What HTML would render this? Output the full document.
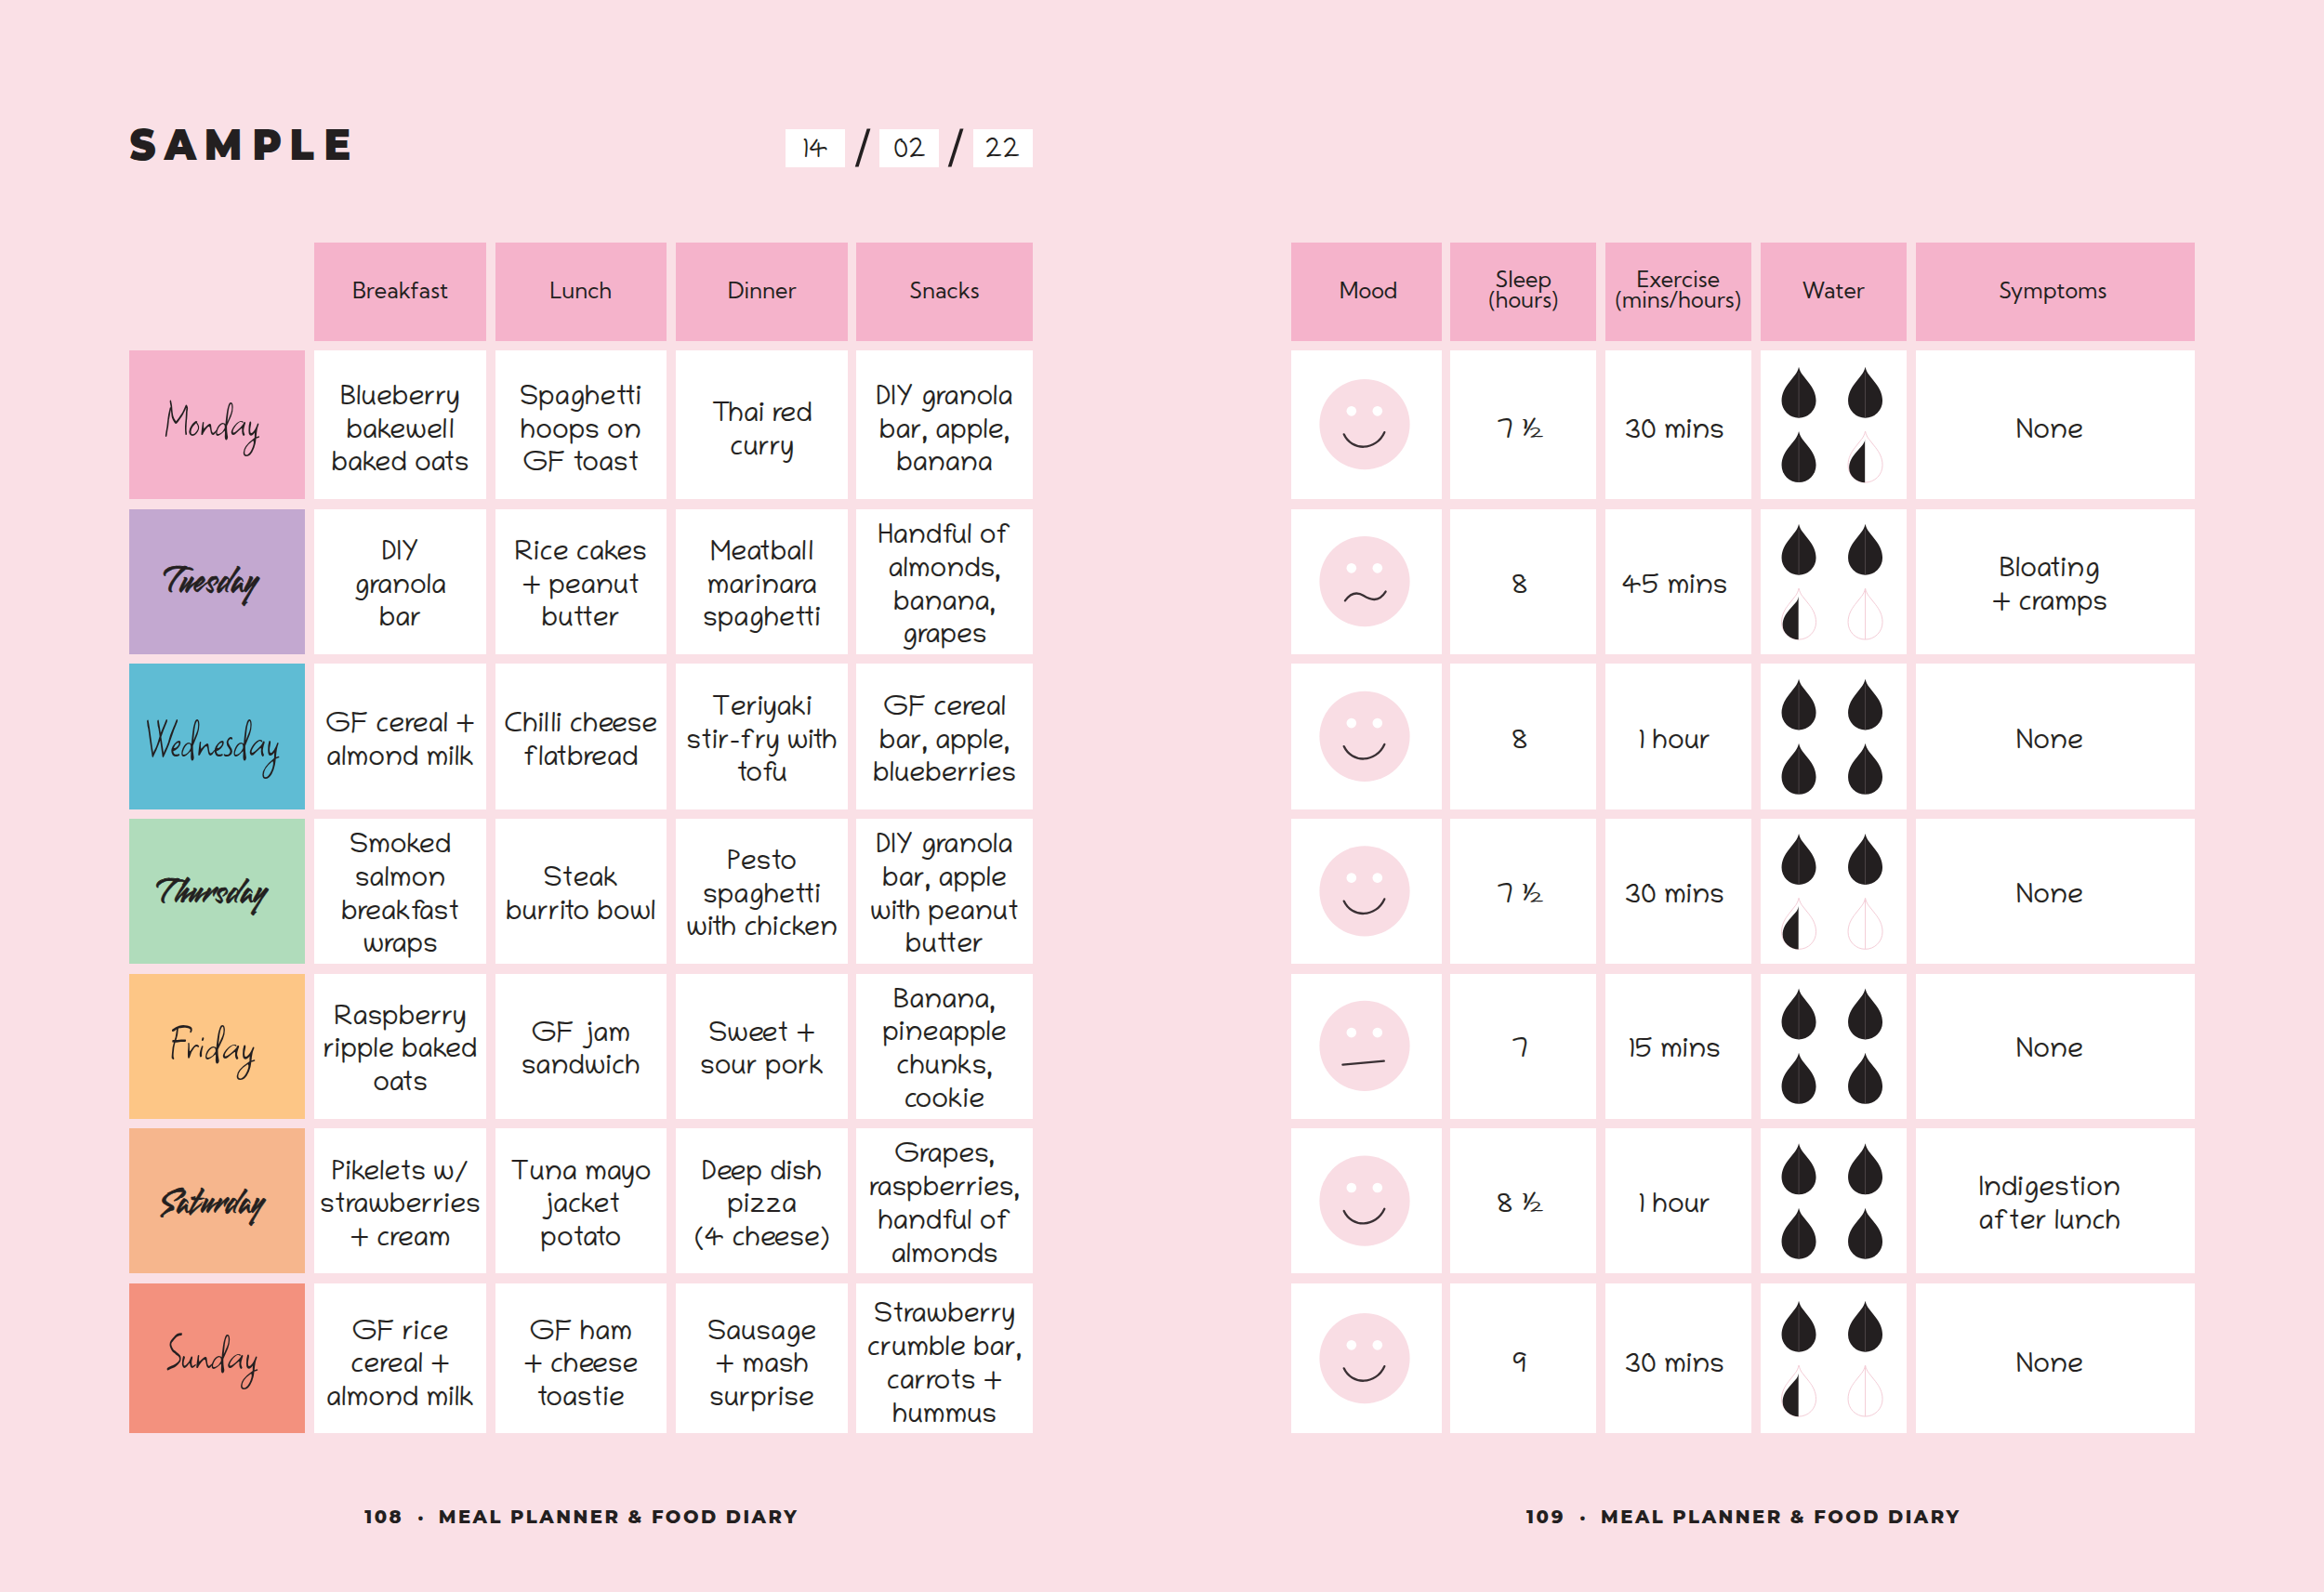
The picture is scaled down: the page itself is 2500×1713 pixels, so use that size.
<!DOCTYPE html>
<html lang="en"><head><meta charset="utf-8"><title>Sample – Meal Planner &amp; Food Diary</title>
<style>
html,body{margin:0;padding:0}
body{width:2500px;height:1713px;background:#fae0e6;position:relative;overflow:hidden;color:#231f20}
.c{position:absolute;display:flex;align-items:center;justify-content:center;text-align:center;box-sizing:border-box}
.h{background:#f5b3cb;font-family:'Kumbh Sans', 'Liberation Sans', sans-serif;font-size:23.4px;line-height:24px;color:#231f20}
.h span{position:relative;top:-0.8px}
.h2{line-height:22.8px}
.h2 span{top:-1.4px}
.w{background:#fff;font-family:'Chilanka', 'Liberation Sans', sans-serif;font-size:30px;line-height:35.5px;white-space:nowrap;color:#231f20;-webkit-text-stroke:0.2px #231f20}
.w>span{position:relative;top:9px}
.w.l4{line-height:35.8px}
.w.sx>span{left:-4px}
.w span.hf{display:inline-block;position:static;transform:scale(1.45,1.08);transform-origin:0 80%;margin-right:6px}
.w.sy>span{left:-6px}
.d{}
svg{position:absolute;left:0;top:0}
</style></head><body>

<div class="c h" style="left:338px;top:261px;width:185px;height:105.5px;"><span>Breakfast</span></div>
<div class="c h" style="left:532.5px;top:261px;width:184.5px;height:105.5px;"><span>Lunch</span></div>
<div class="c h" style="left:727.3px;top:261px;width:184.7px;height:105.5px;"><span>Dinner</span></div>
<div class="c h" style="left:921.4px;top:261px;width:189.3px;height:105.5px;"><span>Snacks</span></div>
<div class="c h" style="left:1388.5px;top:261px;width:162.3px;height:105.5px;"><span style="left:2.5px">Mood</span></div>
<div class="c h h2" style="left:1560.4px;top:261px;width:156.7px;height:105.5px;"><span>Sleep<br>(hours)</span></div>
<div class="c h h2" style="left:1727px;top:261px;width:156.5px;height:105.5px;"><span>Exercise<br>(mins/hours)</span></div>
<div class="c h" style="left:1894px;top:261px;width:156.5px;height:105.5px;"><span>Water</span></div>
<div class="c h" style="left:2061px;top:261px;width:299.7px;height:105.5px;"><span style="left:-2.5px">Symptoms</span></div>
<div class="c d" style="left:139px;top:376.5px;width:189px;height:160.5px;background:#f5b3cb"></div>
<div class="c w" style="left:338px;top:376.5px;width:185px;height:160.5px;"><span style="top:8.95px">Blueberry<br>bakewell<br>baked oats</span></div>
<div class="c w" style="left:532.5px;top:376.5px;width:184.5px;height:160.5px;"><span style="top:8.95px">Spaghetti<br>hoops on<br>GF toast</span></div>
<div class="c w" style="left:727.3px;top:376.5px;width:184.7px;height:160.5px;"><span style="top:8.95px">Thai red<br>curry</span></div>
<div class="c w" style="left:921.4px;top:376.5px;width:189.3px;height:160.5px;"><span style="top:8.95px">DIY granola<br>bar, apple,<br>banana</span></div>
<div class="c d" style="left:139px;top:547.5px;width:189px;height:156.5px;background:#c3a8d0"></div>
<div class="c w" style="left:338px;top:547.5px;width:185px;height:156.5px;"><span style="top:6.95px">DIY<br>granola<br>bar</span></div>
<div class="c w" style="left:532.5px;top:547.5px;width:184.5px;height:156.5px;"><span style="top:6.95px">Rice cakes<br>+ peanut<br>butter</span></div>
<div class="c w" style="left:727.3px;top:547.5px;width:184.7px;height:156.5px;"><span style="top:6.95px">Meatball<br>marinara<br>spaghetti</span></div>
<div class="c w l4" style="left:921.4px;top:547.5px;width:189.3px;height:156.5px;"><span style="top:6.95px">Handful of<br>almonds,<br>banana,<br>grapes</span></div>
<div class="c d" style="left:139px;top:714px;width:189px;height:157px;background:#5fbcd4"></div>
<div class="c w" style="left:338px;top:714px;width:185px;height:157px;"><span style="top:7.2px">GF cereal +<br>almond milk</span></div>
<div class="c w" style="left:532.5px;top:714px;width:184.5px;height:157px;"><span style="top:7.2px">Chilli cheese<br>flatbread</span></div>
<div class="c w" style="left:727.3px;top:714px;width:184.7px;height:157px;"><span style="top:7.2px">Teriyaki<br>stir-fry with<br>tofu</span></div>
<div class="c w" style="left:921.4px;top:714px;width:189.3px;height:157px;"><span style="top:7.2px">GF cereal<br>bar, apple,<br>blueberries</span></div>
<div class="c d" style="left:139px;top:881px;width:189px;height:156px;background:#b0dcbb"></div>
<div class="c w l4" style="left:338px;top:881px;width:185px;height:156px;"><span style="top:6.7px">Smoked<br>salmon<br>breakfast<br>wraps</span></div>
<div class="c w" style="left:532.5px;top:881px;width:184.5px;height:156px;"><span style="top:6.7px">Steak<br>burrito bowl</span></div>
<div class="c w" style="left:727.3px;top:881px;width:184.7px;height:156px;"><span style="top:6.7px">Pesto<br>spaghetti<br>with chicken</span></div>
<div class="c w l4" style="left:921.4px;top:881px;width:189.3px;height:156px;"><span style="top:6.7px">DIY granola<br>bar, apple<br>with peanut<br>butter</span></div>
<div class="c d" style="left:139px;top:1047.5px;width:189px;height:156px;background:#fdc686"></div>
<div class="c w" style="left:338px;top:1047.5px;width:185px;height:156px;"><span style="top:6.7px">Raspberry<br>ripple baked<br>oats</span></div>
<div class="c w" style="left:532.5px;top:1047.5px;width:184.5px;height:156px;"><span style="top:6.7px">GF jam<br>sandwich</span></div>
<div class="c w" style="left:727.3px;top:1047.5px;width:184.7px;height:156px;"><span style="top:6.7px">Sweet +<br>sour pork</span></div>
<div class="c w l4" style="left:921.4px;top:1047.5px;width:189.3px;height:156px;"><span style="top:6.7px">Banana,<br>pineapple<br>chunks,<br>cookie</span></div>
<div class="c d" style="left:139px;top:1214.4px;width:189px;height:155.9px;background:#f6b68d"></div>
<div class="c w" style="left:338px;top:1214.4px;width:185px;height:155.9px;"><span style="top:6.65px">Pikelets w/<br>strawberries<br>+ cream</span></div>
<div class="c w" style="left:532.5px;top:1214.4px;width:184.5px;height:155.9px;"><span style="top:6.65px">Tuna mayo<br>jacket<br>potato</span></div>
<div class="c w" style="left:727.3px;top:1214.4px;width:184.7px;height:155.9px;"><span style="top:6.65px">Deep dish<br>pizza<br>(4 cheese)</span></div>
<div class="c w l4" style="left:921.4px;top:1214.4px;width:189.3px;height:155.9px;"><span style="top:6.65px">Grapes,<br>raspberries,<br>handful of<br>almonds</span></div>
<div class="c d" style="left:139px;top:1381.3px;width:189px;height:160.9px;background:#f3917e"></div>
<div class="c w" style="left:338px;top:1381.3px;width:185px;height:160.9px;"><span style="top:9.15px">GF rice<br>cereal +<br>almond milk</span></div>
<div class="c w" style="left:532.5px;top:1381.3px;width:184.5px;height:160.9px;"><span style="top:9.15px">GF ham<br>+ cheese<br>toastie</span></div>
<div class="c w" style="left:727.3px;top:1381.3px;width:184.7px;height:160.9px;"><span style="top:9.15px">Sausage<br>+ mash<br>surprise</span></div>
<div class="c w l4" style="left:921.4px;top:1381.3px;width:189.3px;height:160.9px;"><span style="top:9.15px">Strawberry<br>crumble bar,<br>carrots +<br>hummus</span></div>
<div class="c w" style="left:1388.5px;top:376.5px;width:162.3px;height:160.5px;"></div>
<div class="c w sx" style="left:1560.4px;top:376.5px;width:156.7px;height:160.5px;"><span style="top:8.95px">7 <span class="hf">½</span></span></div>
<div class="c w sx" style="left:1727px;top:376.5px;width:156.5px;height:160.5px;"><span style="top:8.95px">30 mins</span></div>
<div class="c w" style="left:1894px;top:376.5px;width:156.5px;height:160.5px;"></div>
<div class="c w sy" style="left:2061px;top:376.5px;width:299.7px;height:160.5px;"><span style="top:8.95px">None</span></div>
<div class="c w" style="left:1388.5px;top:547.5px;width:162.3px;height:156.5px;"></div>
<div class="c w sx" style="left:1560.4px;top:547.5px;width:156.7px;height:156.5px;"><span style="top:6.95px">8</span></div>
<div class="c w sx" style="left:1727px;top:547.5px;width:156.5px;height:156.5px;"><span style="top:6.95px">45 mins</span></div>
<div class="c w" style="left:1894px;top:547.5px;width:156.5px;height:156.5px;"></div>
<div class="c w sy" style="left:2061px;top:547.5px;width:299.7px;height:156.5px;"><span style="top:6.95px">Bloating<br>+ cramps</span></div>
<div class="c w" style="left:1388.5px;top:714px;width:162.3px;height:157px;"></div>
<div class="c w sx" style="left:1560.4px;top:714px;width:156.7px;height:157px;"><span style="top:7.2px">8</span></div>
<div class="c w sx" style="left:1727px;top:714px;width:156.5px;height:157px;"><span style="top:7.2px">1 hour</span></div>
<div class="c w" style="left:1894px;top:714px;width:156.5px;height:157px;"></div>
<div class="c w sy" style="left:2061px;top:714px;width:299.7px;height:157px;"><span style="top:7.2px">None</span></div>
<div class="c w" style="left:1388.5px;top:881px;width:162.3px;height:156px;"></div>
<div class="c w sx" style="left:1560.4px;top:881px;width:156.7px;height:156px;"><span style="top:6.7px">7 <span class="hf">½</span></span></div>
<div class="c w sx" style="left:1727px;top:881px;width:156.5px;height:156px;"><span style="top:6.7px">30 mins</span></div>
<div class="c w" style="left:1894px;top:881px;width:156.5px;height:156px;"></div>
<div class="c w sy" style="left:2061px;top:881px;width:299.7px;height:156px;"><span style="top:6.7px">None</span></div>
<div class="c w" style="left:1388.5px;top:1047.5px;width:162.3px;height:156px;"></div>
<div class="c w sx" style="left:1560.4px;top:1047.5px;width:156.7px;height:156px;"><span style="top:6.7px">7</span></div>
<div class="c w sx" style="left:1727px;top:1047.5px;width:156.5px;height:156px;"><span style="top:6.7px">15 mins</span></div>
<div class="c w" style="left:1894px;top:1047.5px;width:156.5px;height:156px;"></div>
<div class="c w sy" style="left:2061px;top:1047.5px;width:299.7px;height:156px;"><span style="top:6.7px">None</span></div>
<div class="c w" style="left:1388.5px;top:1214.4px;width:162.3px;height:155.9px;"></div>
<div class="c w sx" style="left:1560.4px;top:1214.4px;width:156.7px;height:155.9px;"><span style="top:6.65px">8 <span class="hf">½</span></span></div>
<div class="c w sx" style="left:1727px;top:1214.4px;width:156.5px;height:155.9px;"><span style="top:6.65px">1 hour</span></div>
<div class="c w" style="left:1894px;top:1214.4px;width:156.5px;height:155.9px;"></div>
<div class="c w sy" style="left:2061px;top:1214.4px;width:299.7px;height:155.9px;"><span style="top:6.65px">Indigestion<br>after lunch</span></div>
<div class="c w" style="left:1388.5px;top:1381.3px;width:162.3px;height:160.9px;"></div>
<div class="c w sx" style="left:1560.4px;top:1381.3px;width:156.7px;height:160.9px;"><span style="top:9.15px">9</span></div>
<div class="c w sx" style="left:1727px;top:1381.3px;width:156.5px;height:160.9px;"><span style="top:9.15px">30 mins</span></div>
<div class="c w" style="left:1894px;top:1381.3px;width:156.5px;height:160.9px;"></div>
<div class="c w sy" style="left:2061px;top:1381.3px;width:299.7px;height:160.9px;"><span style="top:9.15px">None</span></div>
<div class="c " style="left:845.2px;top:139px;width:63.7px;height:40.5px;background:#fff"></div>
<div class="c " style="left:946.3px;top:139px;width:63.4px;height:40.5px;background:#fff"></div>
<div class="c " style="left:1047.4px;top:139px;width:63.6px;height:40.5px;background:#fff"></div>
<svg width="2500" height="1713" viewBox="0 0 2500 1713">
<defs><path id="dp" d="M0 0C0.8 3.5 2.2 6.5 4 8.6L11 17.4C15 22.5 18.5 28.5 18.5 36.5A18.5 18.5 0 0 1-18.5 36.5C-18.5 28.5-15 22.5-11 17.4L-4 8.6C-2.2 6.5-0.8 3.5 0 0Z"/><clipPath id="hl"><rect x="-20" y="-1" width="19.6" height="60"/></clipPath></defs>
<text transform="scale(0.9,1)" x="154.89 196.44 244.11 301.56 346.11 387.33" y="172" font-family="&#39;Montserrat&#39;, &#39;Liberation Sans&#39;, sans-serif" font-weight="900" font-size="47.3" fill="#231f20">SAMPLE</text>
<text x="877.1" y="169.3" text-anchor="middle" font-family="&#39;Chilanka&#39;, &#39;Liberation Sans&#39;, sans-serif" font-size="29" fill="#231f20">14</text>
<text x="978.5" y="169.3" text-anchor="middle" font-family="&#39;Chilanka&#39;, &#39;Liberation Sans&#39;, sans-serif" font-size="29" fill="#231f20">02</text>
<text x="1078.4" y="169.3" text-anchor="middle" font-family="&#39;Chilanka&#39;, &#39;Liberation Sans&#39;, sans-serif" font-size="29" fill="#231f20">22</text>
<polygon points="919.8,179.5 923.6,179.5 936.4,138.4 932.6,138.4" fill="#231f20"/>
<polygon points="1019.7,179.5 1023.5,179.5 1036.5,138.4 1032.7,138.4" fill="#231f20"/>
<text transform="translate(174.86,467.9) scale(0.96,1.1)" x="0" y="0" font-family="&#39;Square Peg&#39;, &#39;Hurricane&#39;, &#39;Liberation Serif&#39;, serif" font-size="51" fill="#231f20" textLength="108.83" lengthAdjust="spacingAndGlyphs">Monday</text>
<text transform="translate(175.06,637.2) scale(0.97,1.15)" x="0" y="0" font-family="&#39;Smooch&#39;, &#39;Liberation Serif&#39;, serif" font-size="38" fill="#231f20" stroke="#231f20" stroke-width="0.6" textLength="104.27" lengthAdjust="spacingAndGlyphs">Tuesday</text>
<text transform="translate(154.62,812.6) scale(1,1.2)" x="0" y="0" font-family="&#39;Square Peg&#39;, &#39;Hurricane&#39;, &#39;Liberation Serif&#39;, serif" font-size="51" fill="#231f20" textLength="146.06" lengthAdjust="spacingAndGlyphs">Wednesday</text>
<text transform="translate(167.17,970.9) scale(0.96,1.1)" x="0" y="0" font-family="&#39;Smooch&#39;, &#39;Liberation Serif&#39;, serif" font-size="38" fill="#231f20" stroke="#231f20" stroke-width="0.6" textLength="123.61" lengthAdjust="spacingAndGlyphs">Thursday</text>
<text transform="translate(179.94,1138.7) scale(1.09,1.1)" x="0" y="0" font-family="&#39;Square Peg&#39;, &#39;Hurricane&#39;, &#39;Liberation Serif&#39;, serif" font-size="51" fill="#231f20" textLength="86.8" lengthAdjust="spacingAndGlyphs">Friday</text>
<text transform="translate(173.2,1305.2) scale(0.92,1.1)" x="0" y="0" font-family="&#39;Smooch&#39;, &#39;Liberation Serif&#39;, serif" font-size="38" fill="#231f20" stroke="#231f20" stroke-width="0.6" textLength="119.24" lengthAdjust="spacingAndGlyphs">Saturday</text>
<text transform="translate(176.31,1472) scale(1.01,1.1)" x="0" y="0" font-family="&#39;Square Peg&#39;, &#39;Hurricane&#39;, &#39;Liberation Serif&#39;, serif" font-size="51" fill="#231f20" textLength="100.11" lengthAdjust="spacingAndGlyphs">Sunday</text>
<g transform="translate(1468,456.55)">
<circle r="48.6" fill="#f9dde4"/>
<circle cx="-14.2" cy="-14.2" r="5.3" fill="#fff"/><circle cx="13.8" cy="-14.2" r="5.3" fill="#fff"/>
<path d="M-22.3 10.8C-14 29 12 29 21.3 8.6" fill="none" stroke="#3a3034" stroke-width="2.3" stroke-linecap="round"/>
</g>
<g transform="translate(1468,625.55)">
<circle r="48.6" fill="#f9dde4"/>
<circle cx="-14.2" cy="-14.2" r="5.3" fill="#fff"/><circle cx="13.8" cy="-14.2" r="5.3" fill="#fff"/>
<path d="M-21.1 20.8C-15 12.5-8 11 -1 15.5S15 23 22.6 11" fill="none" stroke="#3a3034" stroke-width="2.3" stroke-linecap="round"/>
</g>
<g transform="translate(1468,792.3)">
<circle r="48.6" fill="#f9dde4"/>
<circle cx="-14.2" cy="-14.2" r="5.3" fill="#fff"/><circle cx="13.8" cy="-14.2" r="5.3" fill="#fff"/>
<path d="M-22.3 10.8C-14 29 12 29 21.3 8.6" fill="none" stroke="#3a3034" stroke-width="2.3" stroke-linecap="round"/>
</g>
<g transform="translate(1468,958.8)">
<circle r="48.6" fill="#f9dde4"/>
<circle cx="-14.2" cy="-14.2" r="5.3" fill="#fff"/><circle cx="13.8" cy="-14.2" r="5.3" fill="#fff"/>
<path d="M-22.3 10.8C-14 29 12 29 21.3 8.6" fill="none" stroke="#3a3034" stroke-width="2.3" stroke-linecap="round"/>
</g>
<g transform="translate(1468,1125.3)">
<circle r="48.6" fill="#f9dde4"/>
<circle cx="-14.2" cy="-14.2" r="5.3" fill="#fff"/><circle cx="13.8" cy="-14.2" r="5.3" fill="#fff"/>
<path d="M-23.6 20.3L20.8 16.3" fill="none" stroke="#3a3034" stroke-width="2.3" stroke-linecap="round"/>
</g>
<g transform="translate(1468,1292.15)">
<circle r="48.6" fill="#f9dde4"/>
<circle cx="-14.2" cy="-14.2" r="5.3" fill="#fff"/><circle cx="13.8" cy="-14.2" r="5.3" fill="#fff"/>
<path d="M-22.3 10.8C-14 29 12 29 21.3 8.6" fill="none" stroke="#3a3034" stroke-width="2.3" stroke-linecap="round"/>
</g>
<g transform="translate(1468,1461.55)">
<circle r="48.6" fill="#f9dde4"/>
<circle cx="-14.2" cy="-14.2" r="5.3" fill="#fff"/><circle cx="13.8" cy="-14.2" r="5.3" fill="#fff"/>
<path d="M-22.3 10.8C-14 29 12 29 21.3 8.6" fill="none" stroke="#3a3034" stroke-width="2.3" stroke-linecap="round"/>
</g>
<g transform="translate(1935.05,394.75)">
<use href="#dp" fill="#231f20"/><line x1="0" y1="6" x2="0" y2="55" stroke="#7a6f72" stroke-width="0.8" opacity="0.6"/>
</g>
<g transform="translate(2006.55,394.75)">
<use href="#dp" fill="#231f20"/><line x1="0" y1="6" x2="0" y2="55" stroke="#7a6f72" stroke-width="0.8" opacity="0.6"/>
</g>
<g transform="translate(1935.05,464.05)">
<use href="#dp" fill="#231f20"/><line x1="0" y1="6" x2="0" y2="55" stroke="#7a6f72" stroke-width="0.8" opacity="0.6"/>
</g>
<g transform="translate(2006.55,464.05)">
<use href="#dp" fill="#fff" stroke="#f4cdd7" stroke-width="1"/>
<g transform="translate(0,8.4) scale(0.94,0.85)"><use href="#dp" fill="#231f20" clip-path="url(#hl)"/></g>
</g>
<g transform="translate(1935.05,563.75)">
<use href="#dp" fill="#231f20"/><line x1="0" y1="6" x2="0" y2="55" stroke="#7a6f72" stroke-width="0.8" opacity="0.6"/>
</g>
<g transform="translate(2006.55,563.75)">
<use href="#dp" fill="#231f20"/><line x1="0" y1="6" x2="0" y2="55" stroke="#7a6f72" stroke-width="0.8" opacity="0.6"/>
</g>
<g transform="translate(1935.05,633.05)">
<use href="#dp" fill="#fff" stroke="#f4cdd7" stroke-width="1"/>
<g transform="translate(0,8.4) scale(0.94,0.85)"><use href="#dp" fill="#231f20" clip-path="url(#hl)"/></g>
</g>
<g transform="translate(2006.55,633.05)">
<use href="#dp" fill="#fff" stroke="#f4cdd7" stroke-width="1"/>
<line x1="0" y1="1" x2="0" y2="55" stroke="#f4cdd7" stroke-width="1"/>
</g>
<g transform="translate(1935.05,730.5)">
<use href="#dp" fill="#231f20"/><line x1="0" y1="6" x2="0" y2="55" stroke="#7a6f72" stroke-width="0.8" opacity="0.6"/>
</g>
<g transform="translate(2006.55,730.5)">
<use href="#dp" fill="#231f20"/><line x1="0" y1="6" x2="0" y2="55" stroke="#7a6f72" stroke-width="0.8" opacity="0.6"/>
</g>
<g transform="translate(1935.05,799.8)">
<use href="#dp" fill="#231f20"/><line x1="0" y1="6" x2="0" y2="55" stroke="#7a6f72" stroke-width="0.8" opacity="0.6"/>
</g>
<g transform="translate(2006.55,799.8)">
<use href="#dp" fill="#231f20"/><line x1="0" y1="6" x2="0" y2="55" stroke="#7a6f72" stroke-width="0.8" opacity="0.6"/>
</g>
<g transform="translate(1935.05,897)">
<use href="#dp" fill="#231f20"/><line x1="0" y1="6" x2="0" y2="55" stroke="#7a6f72" stroke-width="0.8" opacity="0.6"/>
</g>
<g transform="translate(2006.55,897)">
<use href="#dp" fill="#231f20"/><line x1="0" y1="6" x2="0" y2="55" stroke="#7a6f72" stroke-width="0.8" opacity="0.6"/>
</g>
<g transform="translate(1935.05,966.3)">
<use href="#dp" fill="#fff" stroke="#f4cdd7" stroke-width="1"/>
<g transform="translate(0,8.4) scale(0.94,0.85)"><use href="#dp" fill="#231f20" clip-path="url(#hl)"/></g>
</g>
<g transform="translate(2006.55,966.3)">
<use href="#dp" fill="#fff" stroke="#f4cdd7" stroke-width="1"/>
<line x1="0" y1="1" x2="0" y2="55" stroke="#f4cdd7" stroke-width="1"/>
</g>
<g transform="translate(1935.05,1063.5)">
<use href="#dp" fill="#231f20"/><line x1="0" y1="6" x2="0" y2="55" stroke="#7a6f72" stroke-width="0.8" opacity="0.6"/>
</g>
<g transform="translate(2006.55,1063.5)">
<use href="#dp" fill="#231f20"/><line x1="0" y1="6" x2="0" y2="55" stroke="#7a6f72" stroke-width="0.8" opacity="0.6"/>
</g>
<g transform="translate(1935.05,1132.8)">
<use href="#dp" fill="#231f20"/><line x1="0" y1="6" x2="0" y2="55" stroke="#7a6f72" stroke-width="0.8" opacity="0.6"/>
</g>
<g transform="translate(2006.55,1132.8)">
<use href="#dp" fill="#231f20"/><line x1="0" y1="6" x2="0" y2="55" stroke="#7a6f72" stroke-width="0.8" opacity="0.6"/>
</g>
<g transform="translate(1935.05,1230.35)">
<use href="#dp" fill="#231f20"/><line x1="0" y1="6" x2="0" y2="55" stroke="#7a6f72" stroke-width="0.8" opacity="0.6"/>
</g>
<g transform="translate(2006.55,1230.35)">
<use href="#dp" fill="#231f20"/><line x1="0" y1="6" x2="0" y2="55" stroke="#7a6f72" stroke-width="0.8" opacity="0.6"/>
</g>
<g transform="translate(1935.05,1299.65)">
<use href="#dp" fill="#231f20"/><line x1="0" y1="6" x2="0" y2="55" stroke="#7a6f72" stroke-width="0.8" opacity="0.6"/>
</g>
<g transform="translate(2006.55,1299.65)">
<use href="#dp" fill="#231f20"/><line x1="0" y1="6" x2="0" y2="55" stroke="#7a6f72" stroke-width="0.8" opacity="0.6"/>
</g>
<g transform="translate(1935.05,1399.75)">
<use href="#dp" fill="#231f20"/><line x1="0" y1="6" x2="0" y2="55" stroke="#7a6f72" stroke-width="0.8" opacity="0.6"/>
</g>
<g transform="translate(2006.55,1399.75)">
<use href="#dp" fill="#231f20"/><line x1="0" y1="6" x2="0" y2="55" stroke="#7a6f72" stroke-width="0.8" opacity="0.6"/>
</g>
<g transform="translate(1935.05,1469.05)">
<use href="#dp" fill="#fff" stroke="#f4cdd7" stroke-width="1"/>
<g transform="translate(0,8.4) scale(0.94,0.85)"><use href="#dp" fill="#231f20" clip-path="url(#hl)"/></g>
</g>
<g transform="translate(2006.55,1469.05)">
<use href="#dp" fill="#fff" stroke="#f4cdd7" stroke-width="1"/>
<line x1="0" y1="1" x2="0" y2="55" stroke="#f4cdd7" stroke-width="1"/>
</g>
<text x="392.2" y="1639" font-family="&#39;Montserrat&#39;, &#39;Liberation Sans&#39;, sans-serif" font-weight="800" font-size="19.6" fill="#231f20" textLength="39.5" lengthAdjust="spacing">108</text>
<text x="452.3" y="1639" text-anchor="middle" font-family="&#39;Montserrat&#39;, &#39;Liberation Sans&#39;, sans-serif" font-weight="800" font-size="19.6" fill="#231f20">·</text>
<text x="471.8" y="1639" font-family="&#39;Montserrat&#39;, &#39;Liberation Sans&#39;, sans-serif" font-weight="800" font-size="19.6" fill="#231f20" textLength="385" lengthAdjust="spacing">MEAL PLANNER &amp; FOOD DIARY</text>
<text x="1641.9" y="1639" font-family="&#39;Montserrat&#39;, &#39;Liberation Sans&#39;, sans-serif" font-weight="800" font-size="19.6" fill="#231f20" textLength="39.5" lengthAdjust="spacing">109</text>
<text x="1702.3" y="1639" text-anchor="middle" font-family="&#39;Montserrat&#39;, &#39;Liberation Sans&#39;, sans-serif" font-weight="800" font-size="19.6" fill="#231f20">·</text>
<text x="1722.1" y="1639" font-family="&#39;Montserrat&#39;, &#39;Liberation Sans&#39;, sans-serif" font-weight="800" font-size="19.6" fill="#231f20" textLength="385" lengthAdjust="spacing">MEAL PLANNER &amp; FOOD DIARY</text>
</svg>
</body></html>
